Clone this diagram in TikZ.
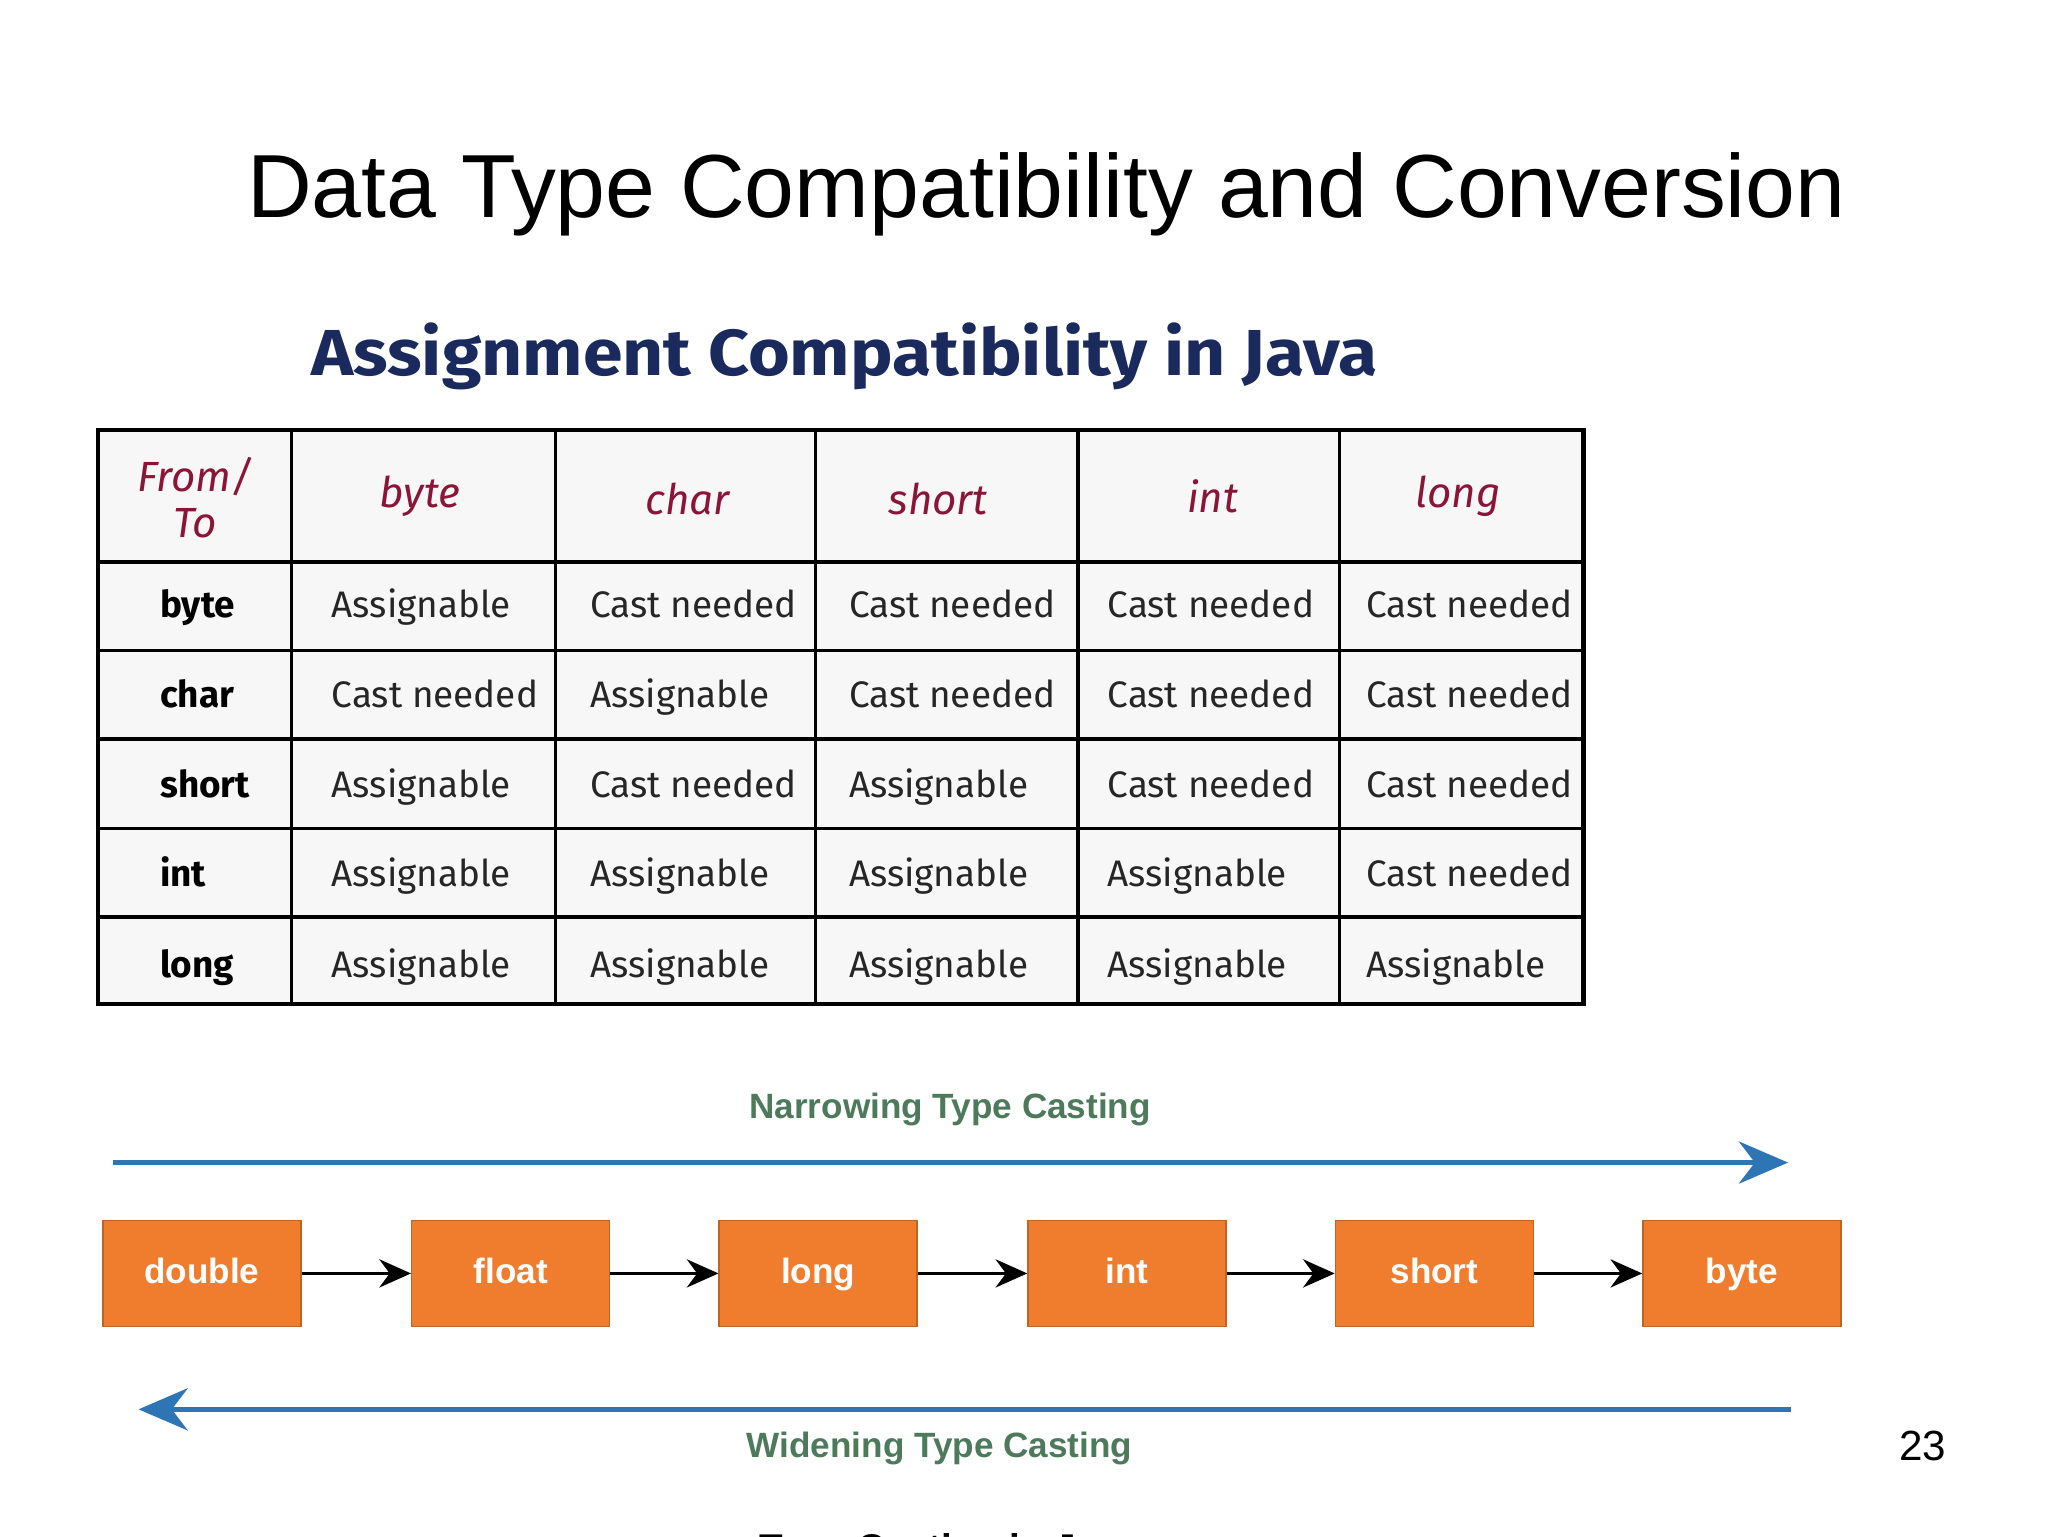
\documentclass[tikz,border=0pt]{standalone}
\usepackage{fontspec}
\setmainfont{Liberation Sans}
\newfontfamily\tabfont{Fira Sans}
\usetikzlibrary{arrows.meta}
\definecolor{navy}{HTML}{1B2A5C}
\definecolor{hdr}{HTML}{8B1538}
\definecolor{orng}{HTML}{F07D2E}
\definecolor{blu}{HTML}{2E75B6}
\definecolor{grn}{HTML}{4E7A5C}
\tikzset{
 cell/.style={font=\tabfont\fontsize{10.5}{12}\selectfont,anchor=base west,text=black!85},
 head/.style={font=\tabfont\itshape\fontsize{12}{13}\selectfont,text=hdr,align=center},
 rowl/.style={font=\tabfont\bfseries\fontsize{10.5}{12}\selectfont,anchor=base west},
 tbox/.style={fill=orng,draw=orng!80!black,minimum width=150*0.013196cm,minimum height=80*0.013196cm,text=white,font=\fontsize{10}{12}\selectfont\bfseries,inner sep=0pt,text height=8pt,text depth=2pt},
 lab/.style={text=grn,font=\fontsize{10}{12}\selectfont\bfseries},
}
\begin{document}
\begin{tikzpicture}[x=0.013196cm,y=-0.013196cm]
\clip (0,0) rectangle (1552,1164);
\fill[white] (0,0) rectangle (1552,1164);
\useasboundingbox (0,0) rectangle (1552,1164);
\node (title) at (793,147) {\fontsize{25.5}{30}\selectfont Data Type Compatibility and Conversion};
\node[text=navy,font=\tabfont\bfseries\fontsize{18.5}{20}\selectfont,xscale=1.1] (sub) at (640,270) {Assignment Compatibility in Java};
\fill[black!3] (74,326) rectangle (1200,761);
\draw[line width=1.2pt] (74,326) rectangle (1200,761);
\foreach \x in {221,421,618,817,1015} \draw[line width=1pt] (\x,326) -- (\x,761);
\foreach \y in {426,493,560,628,695} \draw[line width=1pt] (74,\y) -- (1200,\y);
\node[head] (h0) at (148,377) {From/\\To};
\node[head] (h1) at (318,376) {byte};
\node[head] (h2) at (521,378) {char};
\node[head] (h3) at (711,378) {short};
\node[head] (h4) at (919,376) {int};
\node[head] (h5) at (1105,376) {long};
\foreach \lab/\y in {byte/468,char/536,short/604,int/672,long/741}
 \node[rowl] at (112,\y) {\lab};
\newcommand\rowcells[6]{%
 \node[cell] at (242,#1) {#2};\node[cell] at (438,#1) {#3};\node[cell] at (634,#1) {#4};
 \node[cell] at (830,#1) {#5};\node[cell] at (1026,#1) {#6};}
\rowcells{468}{Assignable}{Cast needed}{Cast needed}{Cast needed}{Cast needed}
\rowcells{536}{Cast needed}{Assignable}{Cast needed}{Cast needed}{Cast needed}
\rowcells{604}{Assignable}{Cast needed}{Assignable}{Cast needed}{Cast needed}
\rowcells{672}{Assignable}{Assignable}{Assignable}{Assignable}{Cast needed}
\rowcells{741}{Assignable}{Assignable}{Assignable}{Assignable}{Assignable}
\node[lab] (nt) at (720,841) {Narrowing Type Casting};
\coordinate (n1) at (86,881); \coordinate (n2) at (1355,881);
\draw[blu,line width=1.3pt,-{Stealth[length=14pt,width=12pt]}] (n1) -- (n2);
\node[tbox] (b1) at (153,965) {double};
\node[tbox] (b2) at (387,965) {float};
\node[tbox] (b3) at (620,965) {long};
\node[tbox] (b4) at (854,965) {int};
\node[tbox] (b5) at (1087,965) {short};
\node[tbox] (b6) at (1320,965) {byte};
\foreach \a/\b in {b1/b2,b2/b3,b3/b4,b4/b5,b5/b6}
 \draw[line width=1pt,-{Stealth[length=9pt,width=8pt]}] (\a) -- (\b);
\coordinate (w1) at (1357,1068); \coordinate (w2) at (105,1068);
\draw[blu,line width=1.3pt,-{Stealth[length=14pt,width=12pt]}] (w1) -- (w2);
\node[lab] (wt) at (712,1098) {Widening Type Casting};
\node (pg) at (1457,1096) {\fontsize{12}{14}\selectfont 23};
\node[font=\fontsize{11}{12}\selectfont\bfseries] (cap) at (720,1176) {Type Casting in Java};
\end{tikzpicture}
\end{document}
